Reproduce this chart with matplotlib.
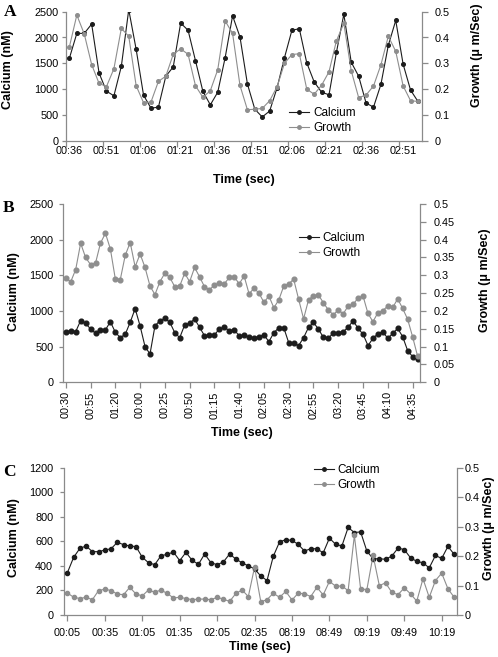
import matplotlib
matplotlib.use('Agg')
import matplotlib.pyplot as plt
from matplotlib.lines import Line2D
from matplotlib.ticker import FuncFormatter
import numpy as np

plt.rcParams['font.family'] = ['Liberation Sans', 'DejaVu Sans']

# ---------------- data ----------------
# Panel A (3 s steps, 00:36 .. 02:57)
a_ticklabels = ['00:36', '00:51', '01:06', '01:21', '01:36', '01:51',
                '02:06', '02:21', '02:36', '02:51']
a_calcium = [1600, 2080, 2080, 2260, 1310, 960, 870, 1440, 2540, 1770,
             880, 630, 650, 1250, 1430, 2280, 2140, 1550, 955, 695,
             940, 1610, 2420, 2010, 1100, 610, 460, 575, 1025, 1610,
             2140, 2170, 1510, 1140, 940, 890, 1710, 2450, 1520, 1250,
             730, 650, 1090, 1850, 2330, 1480, 980, 760]
a_growth = [0.364, 0.487, 0.414, 0.295, 0.222, 0.210, 0.279, 0.435, 0.405, 0.213,
            0.147, 0.150, 0.230, 0.250, 0.335, 0.356, 0.335, 0.213, 0.168, 0.194,
            0.275, 0.464, 0.416, 0.214, 0.120, 0.122, 0.125, 0.155, 0.209, 0.300,
            0.334, 0.337, 0.200, 0.180, 0.215, 0.267, 0.387, 0.455, 0.271, 0.167,
            0.177, 0.212, 0.294, 0.405, 0.346, 0.212, 0.155, 0.152]

# Panel B (5 s steps)
b_ticklabels = ['00:30', '00:55', '01:20', '00:00', '00:25', '00:50', '01:15',
                '01:40', '02:05', '02:30', '02:55', '03:20', '03:45', '04:10', '04:35']
b_calcium = [710, 720, 710, 865, 827, 748, 687, 734, 734, 850,
             701, 626, 673, 841, 1033, 790, 500, 397, 790, 865,
             897, 841, 696, 626, 804, 827, 888, 771, 654, 664,
             664, 748, 771, 724, 734, 654, 660, 635, 625, 640,
             665, 570, 695, 765, 765, 555, 545, 515, 625, 770,
             840, 745, 630, 615, 695, 695, 710, 770, 865, 755,
             675, 515, 615, 680, 710, 615, 685, 755, 640, 445,
             360, 320]
b_growth = [0.292, 0.282, 0.316, 0.390, 0.350, 0.330, 0.334, 0.390, 0.418, 0.374,
            0.290, 0.288, 0.356, 0.392, 0.324, 0.360, 0.322, 0.270, 0.246, 0.282,
            0.306, 0.294, 0.268, 0.270, 0.306, 0.282, 0.322, 0.296, 0.268, 0.260,
            0.272, 0.278, 0.276, 0.294, 0.296, 0.276, 0.298, 0.248, 0.264, 0.250,
            0.224, 0.242, 0.209, 0.231, 0.270, 0.276, 0.289, 0.233, 0.178, 0.231,
            0.243, 0.245, 0.223, 0.203, 0.189, 0.203, 0.192, 0.214, 0.219, 0.236,
            0.242, 0.193, 0.170, 0.195, 0.201, 0.214, 0.210, 0.234, 0.207, 0.177,
            0.128, 0.074]

# Panel C (5 s steps, with a gap in time)
c_ticklabels = ['00:05', '00:35', '01:05', '01:35', '02:05', '02:35',
                '08:19', '08:49', '09:19', '09:49', '10:19']
c_calcium = [345, 470, 543, 562, 516, 516, 529, 540, 592, 573,
             562, 557, 470, 426, 410, 483, 494, 513, 443, 510,
             445, 413, 497, 426, 410, 432, 497, 456, 425, 400,
             376, 317, 281, 478, 595, 614, 607, 576, 521, 540,
             540, 506, 626, 576, 562, 713, 672, 677, 521, 458,
             458, 454, 480, 545, 533, 466, 437, 425, 384, 485,
             461, 559, 494]
c_growth = [0.075, 0.060, 0.056, 0.060, 0.052, 0.083, 0.0875, 0.083, 0.071, 0.069,
            0.094, 0.071, 0.065, 0.085, 0.077, 0.085, 0.073, 0.058, 0.060, 0.056,
            0.052, 0.054, 0.054, 0.052, 0.060, 0.054, 0.046, 0.073, 0.085, 0.0625,
            0.1625, 0.045, 0.052, 0.074, 0.060, 0.080, 0.051, 0.074, 0.072, 0.0625,
            0.094, 0.068, 0.114, 0.098, 0.098, 0.083, 0.270, 0.089, 0.086, 0.202,
            0.100, 0.109, 0.077, 0.069, 0.092, 0.072, 0.047, 0.123, 0.060, 0.117,
            0.142, 0.089, 0.060]

# ---------------- styling ----------------
W, H = 498, 657
CA = '#1c1c1c'
GR = '#8e8e8e'
SP = '#8a8a8a'
TFS = 7.8
LFS = 9

fig = plt.figure(figsize=(W / 100, H / 100), dpi=100)


def rect(l, r, t, b):
    return [l / W, 1 - b / H, (r - l) / W, (b - t) / H]


def gfmt(v, pos):
    return ('%g' % round(v, 3))


def panel(rc, ca, gr, ylim, ystep, rstep, labels, lstep, ms, lpad, rpad,
          rot=0, between=False, xpad=5, leg=(0.6, 0.16)):
    ax = fig.add_axes(rect(*rc))
    n = len(ca)
    x = np.arange(n)
    ax.plot(x, ca, '-o', color=CA, lw=0.8, ms=ms, mec=CA, mfc=CA, zorder=3)
    ax.set_xlim(-0.5, n - 0.5)
    ax.set_ylim(*ylim)
    ax.set_yticks(np.arange(ylim[0], ylim[1] + 1, ystep))
    ax2 = ax.twinx()
    ax2.plot(x, gr, '-o', color=GR, lw=0.8, ms=ms, mec=GR, mfc=GR, zorder=2)
    ax2.set_ylim(0, 0.5)
    ax2.set_yticks(np.arange(0, 0.5 + 1e-9, rstep))
    ax2.yaxis.set_major_formatter(FuncFormatter(gfmt))
    ax2.set_xlim(-0.5, n - 0.5)
    for a in (ax, ax2):
        a.spines['top'].set_visible(False)
        for s in a.spines.values():
            s.set_color(SP)
            s.set_linewidth(0.9)
        a.set_facecolor('none')
    ax2.spines['left'].set_visible(False)
    ax2.spines['bottom'].set_visible(False)
    ax.spines['right'].set_visible(False)
    ax.tick_params(axis='y', direction='out', length=3, color=SP, labelsize=TFS,
                   pad=lpad, width=0.9)
    ax2.tick_params(axis='y', direction='out', length=4, color=SP, labelsize=TFS,
                    pad=rpad, width=0.9)
    pos = np.arange(0, n, lstep)[:len(labels)]
    ax.set_xticks(pos)
    ax.set_xticklabels(labels, rotation=rot)
    if between:
        ax.tick_params(axis='x', which='major', length=0, labelsize=TFS, pad=xpad)
        ax.set_xticks(np.arange(-0.5, n, lstep), minor=True)
        ax.tick_params(axis='x', which='minor', direction='out', length=4,
                       color=SP, width=0.9)
    else:
        ax.tick_params(axis='x', which='major', direction='out', length=4,
                       color=SP, labelsize=TFS, pad=xpad, width=0.9)
    hs = [Line2D([], [], color=CA, lw=0.8, marker='o', ms=2.5),
          Line2D([], [], color=GR, lw=0.8, marker='o', ms=2.5)]
    ax2.legend(hs, ['Calcium', 'Growth'], loc='center left', bbox_to_anchor=leg,
               frameon=False, fontsize=8.5, handlelength=1.7, handletextpad=0.3,
               labelspacing=0.25, borderpad=0, borderaxespad=0)
    return ax, ax2


# Panel A
panel((65.7, 421.7, 11.7, 140.7), a_calcium, a_growth, (0, 2500), 500, 0.1,
      a_ticklabels, 5, 2.6, 2, 5, between=True, xpad=4, leg=(0.628, 0.157))
# Panel B
panel((63.3, 420.0, 204.0, 382.3), b_calcium, b_growth, (0, 2500), 500, 0.05,
      b_ticklabels, 5, 3.4, 4, 6, rot=90, xpad=2.5, leg=(0.66, 0.768))
# Panel C
panel((64.3, 457.3, 467.7, 615.0), c_calcium, c_growth, (0, 1200), 200, 0.1,
      c_ticklabels, 6, 3.0, 5, 1.5, xpad=5, leg=(0.635, 0.933))

# axis titles
def ft(x, y, s, **kw):
    fig.text(x / W, 1 - y / H, s, ha='center', va='center', **kw)

ft(8.5, 70, 'Calcium (nM)', rotation=90, fontsize=LFS, fontweight='bold')
ft(477, 55, 'Growth (\u03bc m/Sec)', rotation=90, fontsize=LFS, fontweight='bold')
ft(244, 180, 'Time (sec)', fontsize=LFS, fontweight='bold')

ft(13.5, 292, 'Calcium (nM)', rotation=90, fontsize=LFS, fontweight='bold')
ft(485, 280, 'Growth (\u03bc m/Sec)', rotation=90, fontsize=LFS, fontweight='bold')
ft(242, 433, 'Time (sec)', fontsize=LFS, fontweight='bold')

ft(13.5, 538, 'Calcium (nM)', rotation=90, fontsize=LFS, fontweight='bold')
ft(489, 528, 'Growth (\u03bc m/Sec)', rotation=90, fontsize=LFS, fontweight='bold')
ft(260, 647, 'Time (sec)', fontsize=LFS, fontweight='bold')

for lx, ly, s in [(10, 12, 'A'), (9, 208, 'B'), (9, 472, 'C')]:
    ft(lx, ly, s, fontsize=12.5, fontweight='bold', family='Liberation Serif')

fig.savefig('out.png', dpi=100)
